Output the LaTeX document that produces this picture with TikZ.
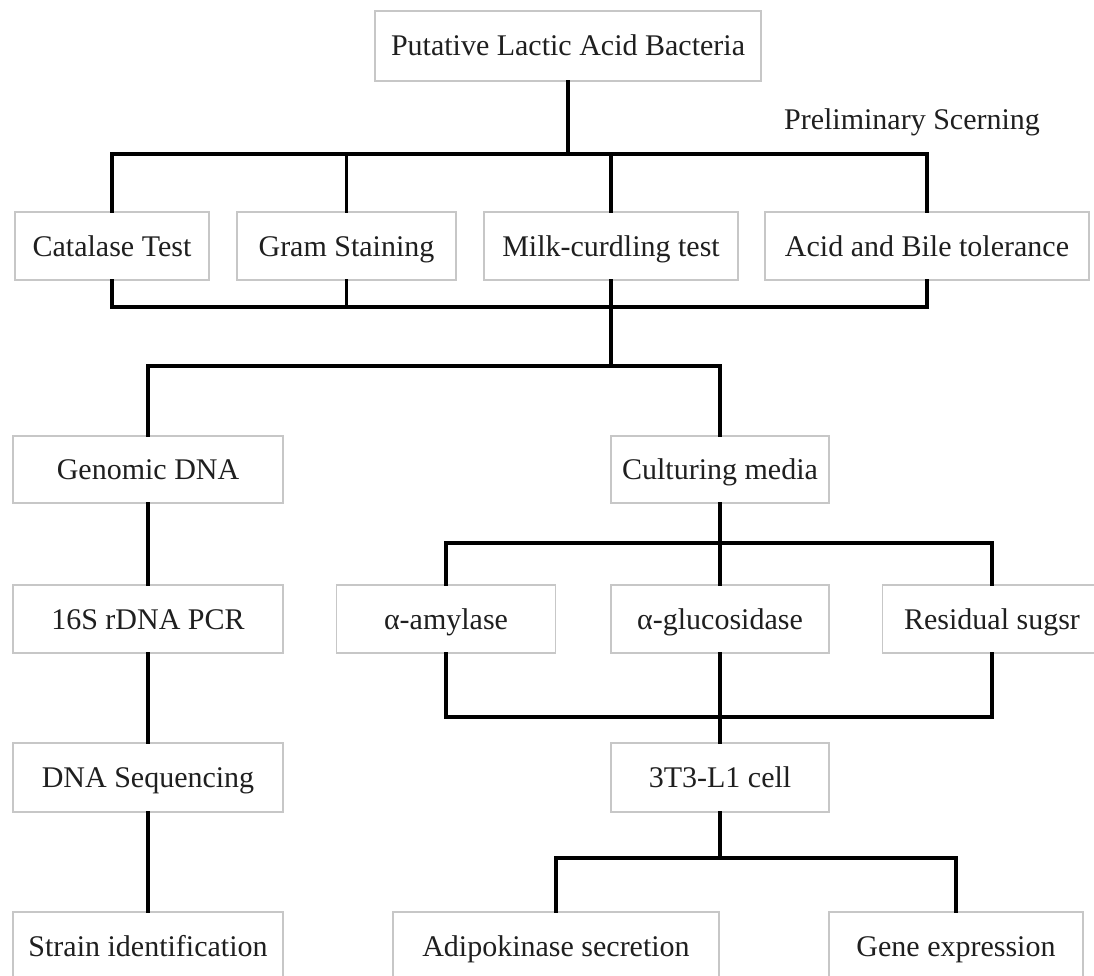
\documentclass[tikz,border=0pt]{standalone}
\usepackage{fontspec}
\setmainfont{Liberation Serif}
\begin{document}
\begin{tikzpicture}[x=1pt,y=-1pt,
  box/.style={draw=black!22, line width=1.2pt, fill=white, inner sep=0pt,
    font=\fontsize{30}{34}\selectfont, text=black!88,
    text height=22pt, text depth=2pt},
  conn/.style={line width=3.4pt, black, line join=miter, line cap=rect}]
\useasboundingbox (0,0) rectangle (1094,976);
\clip (0,0) rectangle (1094,976);
% nodes
\node[box, minimum width=386, minimum height=70] (top) at (568,46) {Putative Lactic Acid Bacteria};
\node[font=\fontsize{30}{34}\selectfont, text=black!88, text height=22pt, text depth=2pt, inner sep=0pt] (prelim) at (912,120) {Preliminary Scerning};
\node[box, minimum width=194, minimum height=68] (cat) at (112,246) {Catalase Test};
\node[box, minimum width=219, minimum height=68] (gram) at (346.5,246) {Gram Staining};
\node[box, minimum width=254, minimum height=68] (milk) at (611,246) {Milk-curdling test};
\node[box, minimum width=324, minimum height=68] (acid) at (927,246) {Acid and Bile tolerance};
\node[box, minimum width=270, minimum height=67] (gen) at (148,469.5) {Genomic DNA};
\node[box, minimum width=218, minimum height=67] (cul) at (720,469.5) {Culturing media};
\node[box, minimum width=270, minimum height=68] (pcr) at (148,619) {16S rDNA PCR};
\node[box, minimum width=219, minimum height=68] (amy) at (446,619) {α-amylase};
\node[box, minimum width=218, minimum height=68] (glu) at (720,619) {α-glucosidase};
\node[box, minimum width=219, minimum height=68] (res) at (992,619) {Residual sugsr};
\node[box, minimum width=270, minimum height=69] (seq) at (148,777.5) {DNA Sequencing};
\node[box, minimum width=218, minimum height=69] (cell) at (720,777.5) {3T3-L1 cell};
\node[box, minimum width=270, minimum height=68] (strain) at (148,946) {Strain identification};
\node[box, minimum width=326, minimum height=68] (adi) at (556,946) {Adipokinase secretion};
\node[box, minimum width=254, minimum height=68] (gene) at (956,946) {Gene expression};
% junctions
\coordinate (j1) at (top.south |- 0,154);
\coordinate (j2) at (milk.south |- 0,307);
\coordinate (j3) at (milk.south |- 0,366);
\coordinate (j4) at (cul.south |- 0,543);
\coordinate (j5) at (glu.south |- 0,717);
\coordinate (j6) at (cell.south |- 0,858);
% connectors
\draw[conn] (top.south) -- (j1);
\draw[conn] (cat.north) |- (j1);
\draw[conn] (gram.north) |- (j1);
\draw[conn] (milk.north) |- (j1);
\draw[conn] (acid.north) |- (j1);
\draw[conn] (cat.south) |- (j2);
\draw[conn] (gram.south) |- (j2);
\draw[conn] (milk.south) -- (j2);
\draw[conn] (acid.south) |- (j2);
\draw[conn] (j2) -- (j3);
\draw[conn] (gen.north) |- (j3);
\draw[conn] (cul.north) |- (j3);
\draw[conn] (gen.south) -- (pcr.north);
\draw[conn] (pcr.south) -- (seq.north);
\draw[conn] (seq.south) -- (strain.north);
\draw[conn] (cul.south) -- (j4);
\draw[conn] (amy.north) |- (j4);
\draw[conn] (glu.north) -- (j4);
\draw[conn] (res.north) |- (j4);
\draw[conn] (amy.south) |- (j5);
\draw[conn] (res.south) |- (j5);
\draw[conn] (glu.south) -- (cell.north);
\draw[conn] (cell.south) -- (j6);
\draw[conn] (adi.north) |- (j6);
\draw[conn] (gene.north) |- (j6);
\end{tikzpicture}
\end{document}
